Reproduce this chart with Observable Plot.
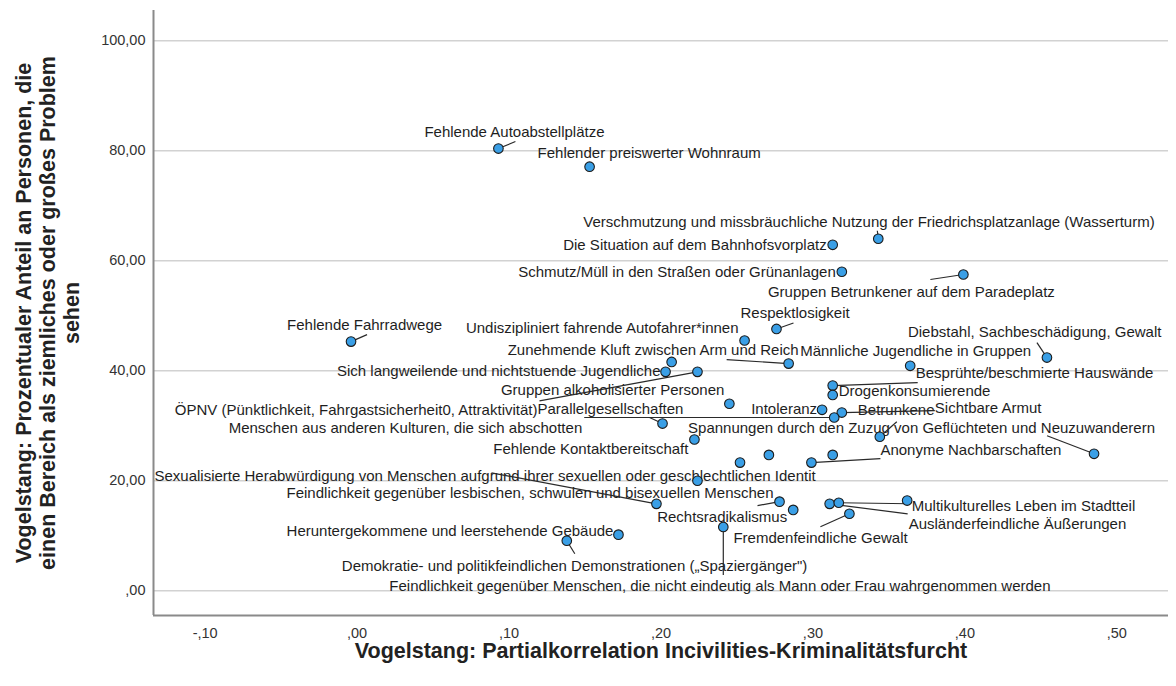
<!DOCTYPE html>
<html><head><meta charset="utf-8">
<script src="https://cdn.jsdelivr.net/npm/d3@7"></script>
<script src="https://cdn.jsdelivr.net/npm/@observablehq/plot@0.6"></script>
<style>body{margin:0;background:#fff}</style>
</head><body><div id="chart"></div>
<script>
// ---- data ----
const problems = [
  "Fehlende Autoabstellplätze",
  "Fehlender preiswerter Wohnraum",
  "Verschmutzung und missbräuchliche Nutzung der Friedrichsplatzanlage (Wasserturm)",
  "Die Situation auf dem Bahnhofsvorplatz",
  "Schmutz/Müll in den Straßen oder Grünanlagen",
  "Gruppen Betrunkener auf dem Paradeplatz",
  "Respektlosigkeit",
  "Undiszipliniert fahrende Autofahrer*innen",
  "Fehlende Fahrradwege",
  "Diebstahl, Sachbeschädigung, Gewalt",
  "",
  "Zunehmende Kluft zwischen Arm und Reich",
  "Männliche Jugendliche in Gruppen",
  "Sich langweilende und nichtstuende Jugendliche",
  "ÖPNV (Pünktlichkeit, Fahrgastsicherheit0, Attraktivität)",
  "Besprühte/beschmierte Hauswände",
  "Drogenkonsumierende",
  "Gruppen alkoholisierter Personen",
  "Intoleranz",
  "Sichtbare Armut",
  "Menschen aus anderen Kulturen, die sich abschotten",
  "Parallelgesellschaften",
  "Fehlende Kontaktbereitschaft",
  "Betrunkene",
  "",
  "",
  "Anonyme Nachbarschaften",
  "",
  "Spannungen durch den Zuzug von Geflüchteten und Neuzuwanderern",
  "",
  "Sexualisierte Herabwürdigung von Menschen aufgrund ihrer sexuellen oder geschlechtlichen Identit",
  "Feindlichkeit gegenüber lesbischen, schwulen und bisexuellen Menschen",
  "Rechtsradikalismus",
  "Ausländerfeindliche Äußerungen",
  "Multikulturelles Leben im Stadtteil",
  "",
  "Fremdenfeindliche Gewalt",
  "Heruntergekommene und leerstehende Gebäude",
  "Demokratie- und politikfeindlichen Demonstrationen („Spaziergänger\")",
  "Feindlichkeit gegenüber Menschen, die nicht eindeutig als Mann oder Frau wahrgenommen werden"
];
const partialCorr = [0.093, 0.153, 0.343, 0.313, 0.319, 0.399, 0.276, 0.255, -0.004, 0.454,
  0.207, 0.284, 0.364, 0.203, 0.224, 0.313, 0.313, 0.245, 0.306, 0.319,
  0.314, 0.201, 0.222, 0.344, 0.252, 0.271, 0.299, 0.313, 0.485, 0.224,
  0.197, 0.278, 0.287, 0.311, 0.317, 0.362, 0.324, 0.172, 0.138, 0.241];
const shareProblem = [80.4, 77.1, 64.0, 62.9, 58.0, 57.5, 47.6, 45.5, 45.3, 42.4,
  41.6, 41.3, 40.9, 39.8, 39.8, 37.3, 35.6, 34.0, 32.9, 32.4,
  31.5, 30.4, 27.5, 28.0, 23.3, 24.7, 23.3, 24.7, 24.9, 20.0,
  15.8, 16.2, 14.7, 15.8, 16.0, 16.4, 14.0, 10.2, 9.1, 11.6];
const xTicks = [-0.1, 0, 0.1, 0.2, 0.3, 0.4, 0.5];
const yTicks = [0, 20, 40, 60, 80, 100];
const xTitle = "Vogelstang: Partialkorrelation Incivilities-Kriminalitätsfurcht";
const yTitle = "Vogelstang: Prozentualer Anteil an Personen, die\neinen Bereich als ziemliches oder großes Problem\nsehen";

// ---- label placement (pixel offsets from the point): [anchor, dx, dy, leaderDx, leaderDy] ----
const labelLayout = [
  ["start", -74, -16, 17, -7],
  ["start", -52, -14, null, null],
  ["start", -295, -17, -1, -8],
  ["end", -6, 0, null, null],
  ["end", -6, 0, null, null],
  ["middle", -52, 18, -33, 5],
  ["start", -36, -16, 17, -6],
  ["end", -6, -12, null, null],
  ["start", -64, -16, 16, -7],
  ["start", -139, -25, -10, -15],
  null,
  ["end", 10, -13, -62, -4],
  ["start", -110, -15, null, null],
  ["end", -5, -1, null, null],
  ["end", -160, 38, -158, 29],
  ["start", 83, -12, 85, -3],
  ["start", 6, -4, null, null],
  ["end", -5, -14, null, null],
  ["end", -5, -1, null, null],
  ["start", 93, -4, 93, -2],
  ["end", -252, 11, -250, 0],
  ["start", -125, -14, -13, -6],
  ["end", -6, 10, null, null],
  ["start", -22, -27, 17, -15],
  null,
  null,
  ["start", 69, -12, 69, -4],
  null,
  ["start", -406, -26, -47, -18],
  null,
  ["start", -502, -28, -165, -31],
  ["end", -6, -8, -22, 4],
  ["end", -6, 7, null, null],
  ["start", 79, 20, 78, 10],
  ["start", 73, 3, 71, 1],
  null,
  ["start", -116, 24, -29, 13],
  ["end", -5, -3, null, null],
  ["start", -225, 25, 8, 13],
  ["start", -334, 59, 0, 48]
];

// ---- layout ----
const W = 1176, H = 686;
const M = {top: 10, right: 8, bottom: 71, left: 153};
const xDomain = [-0.134, 0.534], yDomain = [-4.5, 105.5];
const kx = (W - M.left - M.right) / (xDomain[1] - xDomain[0]);
const ky = (H - M.top - M.bottom) / (yDomain[1] - yDomain[0]);

const fmt = v => v.toFixed(2).replace(".", ",").replace(/^(-?)0,/, "$1,");

const rows = partialCorr.map((x, i) => ({x, y: shareProblem[i], label: problems[i], lay: labelLayout[i]}));
const labelled = rows.filter(r => r.label && r.lay);
const leaders = labelled.filter(r => r.lay[3] != null);

const textMarks = ["start", "end", "middle"].map(a =>
  Plot.text(labelled.filter(r => r.lay[0] === a), {
    x: r => r.x + r.lay[1] / kx,
    y: r => r.y - r.lay[2] / ky,
    text: "label",
    textAnchor: a,
    lineAnchor: "middle",
    fill: "#1e1e1e",
    fontSize: 15
  })
);

const chart = Plot.plot({
  width: W, height: H,
  marginTop: M.top, marginRight: M.right, marginBottom: M.bottom, marginLeft: M.left,
  style: {fontFamily: "'Liberation Sans', Arial, sans-serif", fontSize: "15px", background: "#fff", color: "#222"},
  x: {domain: xDomain},
  y: {domain: yDomain},
  marks: [
    Plot.ruleY(yTicks, {stroke: "#d2d2d2", strokeWidth: 1.5}),
    Plot.ruleX([xDomain[0]], {stroke: "#8a8a8a", strokeWidth: 2}),
    Plot.ruleY([yDomain[0]], {stroke: "#8a8a8a", strokeWidth: 2}),
    Plot.axisX(xTicks, {tickSize: 0, tickPadding: 12, tickFormat: fmt, fontSize: 14.5, fill: "#333", label: null}),
    Plot.axisY(yTicks, {tickSize: 0, tickPadding: 8, tickFormat: fmt, fontSize: 14.5, fill: "#333", label: null}),
    ...textMarks,
    Plot.link(leaders, {
      x1: "x", y1: "y",
      x2: r => r.x + r.lay[3] / kx,
      y2: r => r.y - r.lay[4] / ky,
      stroke: "#2a2a2a", strokeWidth: 1.2
    }),
    Plot.dot(rows, {x: "x", y: "y", r: 4.8, fill: "#3a9fe6", stroke: "#1b1b1b", strokeWidth: 1.1}),
    Plot.text([xTitle], {frameAnchor: "bottom", dy: 36, lineAnchor: "middle", text: d => d, fontSize: 21.5, fontWeight: "bold", fill: "#222"}),
    Plot.text([yTitle], {frameAnchor: "left", dx: -106, rotate: -90, text: d => d, fontSize: 21.5, fontWeight: "bold", fill: "#222", lineHeight: 1.1, textAnchor: "middle", lineAnchor: "middle"})
  ]
});
document.getElementById("chart").append(chart);
</script>
</body></html>
